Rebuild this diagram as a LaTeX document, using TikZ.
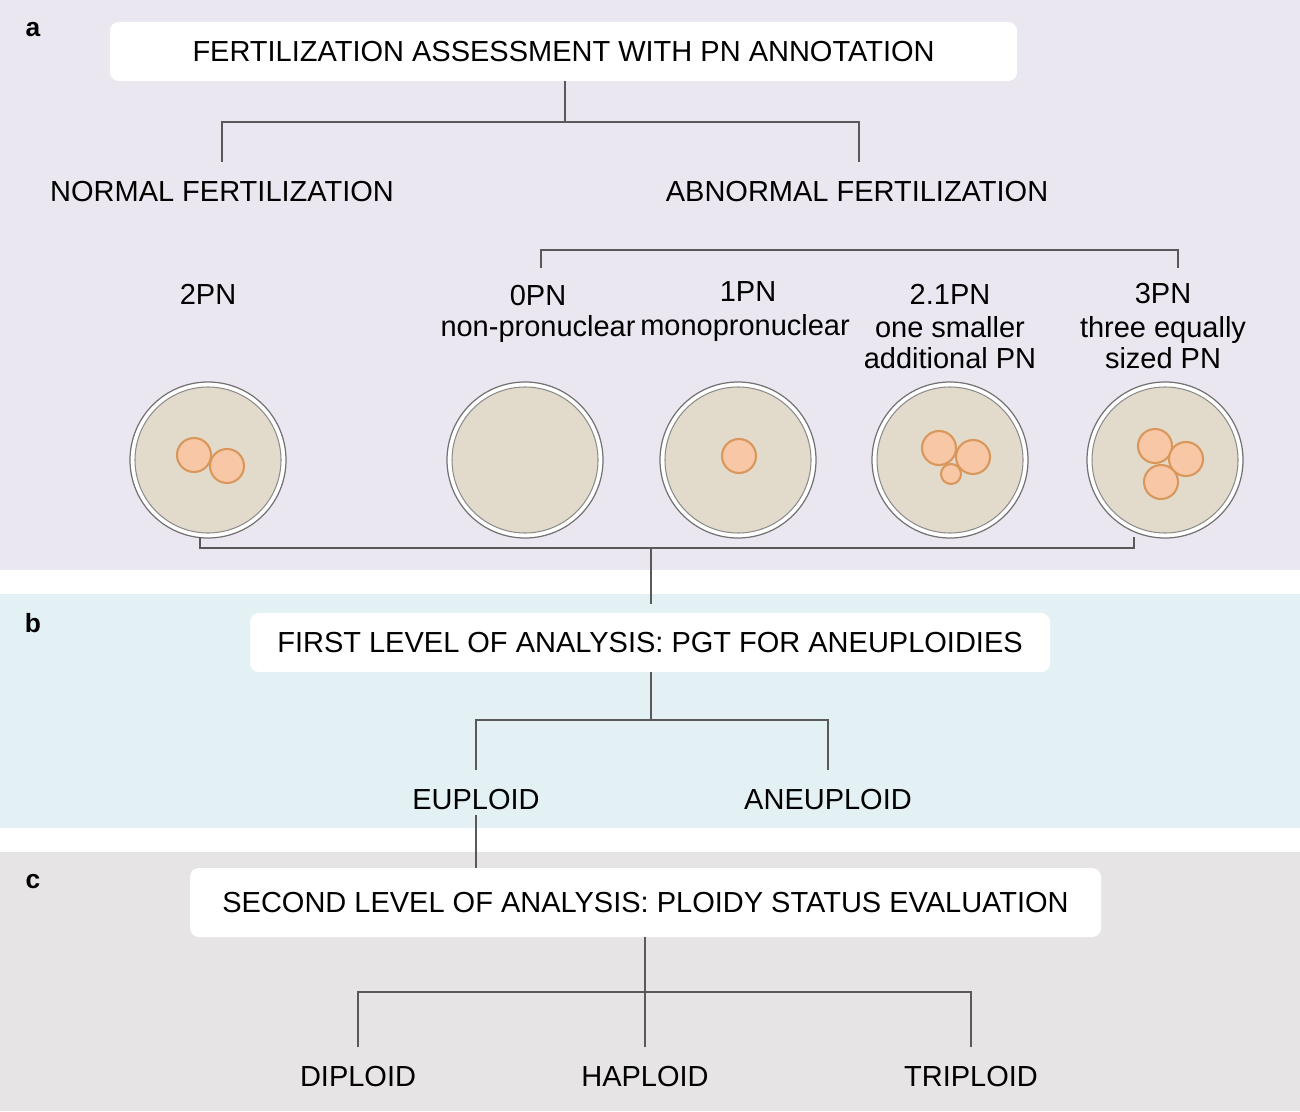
\documentclass[tikz,border=0pt]{standalone}
\usepackage{fontspec}
\setmainfont{Liberation Sans}
\begin{document}
\begin{tikzpicture}[x=0.02cm,y=-0.02cm,
  lbl/.style={font=\fontsize{16.5}{17.6}\selectfont,inner sep=0pt,align=center},
  wbox/.style={fill=white,rounded corners=5pt,inner sep=0pt},
  conn/.style={draw=black!65,line width=1.3pt},
  cellc/.style={circle,fill=white,draw=black!55,line width=0.7pt,minimum size=156*0.02cm,inner sep=0pt}]
\definecolor{pa}{HTML}{EAE7F1}\definecolor{pb}{HTML}{E3F1F5}\definecolor{pc}{HTML}{E6E4E5}
\definecolor{cyt}{HTML}{E2DBCC}\definecolor{pnf}{HTML}{F8C8A6}\definecolor{pnd}{HTML}{D9975C}
\tikzset{pn/.style={fill=pnf,draw=pnd,line width=1.2pt}}
\useasboundingbox (0,0) rectangle (1300,1111);
\fill[white] (0,0) rectangle (1300,1111);
\fill[pa] (0,0) rectangle (1300,570);
\fill[pb] (0,594) rectangle (1300,828);
\fill[pc] (0,852) rectangle (1300,1111);
\node[lbl,font=\fontsize{15}{16}\selectfont\bfseries] (la) at (33,30) {a};
\node[lbl,font=\fontsize{15}{16}\selectfont\bfseries] (lb) at (33,623) {b};
\node[lbl,font=\fontsize{15}{16}\selectfont\bfseries] (lc) at (33,882) {c};
% panel a
\node[wbox,minimum width=907*0.02cm,minimum height=59*0.02cm] (ta) at (563.5,51.5) {};
\node[lbl] at (ta) {FERTILIZATION ASSESSMENT WITH PN ANNOTATION};
\coordinate (ja) at (565,122);
\coordinate (nf) at (222,162); \coordinate (af) at (859,162);
\draw[conn] (ta.south -| ja) -- (ja);
\draw[conn] (nf) -- (222,122) -- (859,122) -- (af);
\node[lbl] (normal) at (222,192) {NORMAL FERTILIZATION};
\node[lbl] (abnormal) at (857,192) {ABNORMAL FERTILIZATION};
\coordinate (b0) at (541,268); \coordinate (b3) at (1178,268);
\draw[conn] (b0) -- (541,250) -- (1178,250) -- (b3);
\node[lbl] (l2) at (208,294) {2PN};
\node[lbl] (l0) at (538,296) {0PN};
\node[lbl] (l0b) at (538,329) {non-pronuclear};
\node[lbl] (l1) at (748,292) {1PN};
\node[lbl] (l1b) at (745,328) {monopronuclear};
\node[lbl] (l21) at (950,294) {2.1PN};
\node[lbl] (l21b) at (950,343) {one smaller\\additional PN};
\node[lbl] (l3) at (1163,294) {3PN};
\node[lbl] (l3b) at (1163,343) {three equally\\sized PN};
\foreach \n/\x in {c2/208,c0/525,c1/738,c21/950,c3/1165}{
  \node[cellc] (\n) at (\x,460) {};
  \fill[cyt] (\x,460) circle[radius=73];
  \draw[black!45,line width=0.6pt] (\x,460) circle[radius=73];
}
\draw[pn] (194,455) circle[radius=17]; \draw[pn] (227,466) circle[radius=17];
\draw[pn] (739,456) circle[radius=17];
\draw[pn] (939,448) circle[radius=17]; \draw[pn] (973,457) circle[radius=17]; \draw[pn] (951,474) circle[radius=10];
\draw[pn] (1155,446) circle[radius=17]; \draw[pn] (1186,459) circle[radius=17]; \draw[pn] (1161,482) circle[radius=17];
\coordinate (jb) at (651,548);
\draw[conn] (200,537) -- (200,548) -- (1134,548) -- (1134,537);
% panel b
\node[wbox,minimum width=800*0.02cm,minimum height=59*0.02cm] (tb) at (650,642.5) {};
\node[lbl] at (tb) {FIRST LEVEL OF ANALYSIS: PGT FOR ANEUPLOIDIES};
\draw[conn] (jb) -- (651,604);
\coordinate (jb2) at (651,720);
\draw[conn] (tb.south -| jb2) -- (jb2);
\draw[conn] (476,770) -- (476,720) -- (828,720) -- (828,770);
\node[lbl] (eu) at (476,800) {EUPLOID};
\node[lbl] (an) at (828,800) {ANEUPLOID};
% panel c
\node[wbox,minimum width=911*0.02cm,minimum height=69*0.02cm] (tc) at (645.5,902.5) {};
\node[lbl] at (tc) {SECOND LEVEL OF ANALYSIS: PLOIDY STATUS EVALUATION};
\draw[conn] (476,815) -- (476,868);
\draw[conn] (tc.south -| 645,0) -- (645,1047);
\draw[conn] (358,1047) -- (358,992) -- (971,992) -- (971,1047);
\node[lbl] (di) at (358,1077) {DIPLOID};
\node[lbl] (ha) at (645,1077) {HAPLOID};
\node[lbl] (tr) at (971,1077) {TRIPLOID};
\end{tikzpicture}
\end{document}
